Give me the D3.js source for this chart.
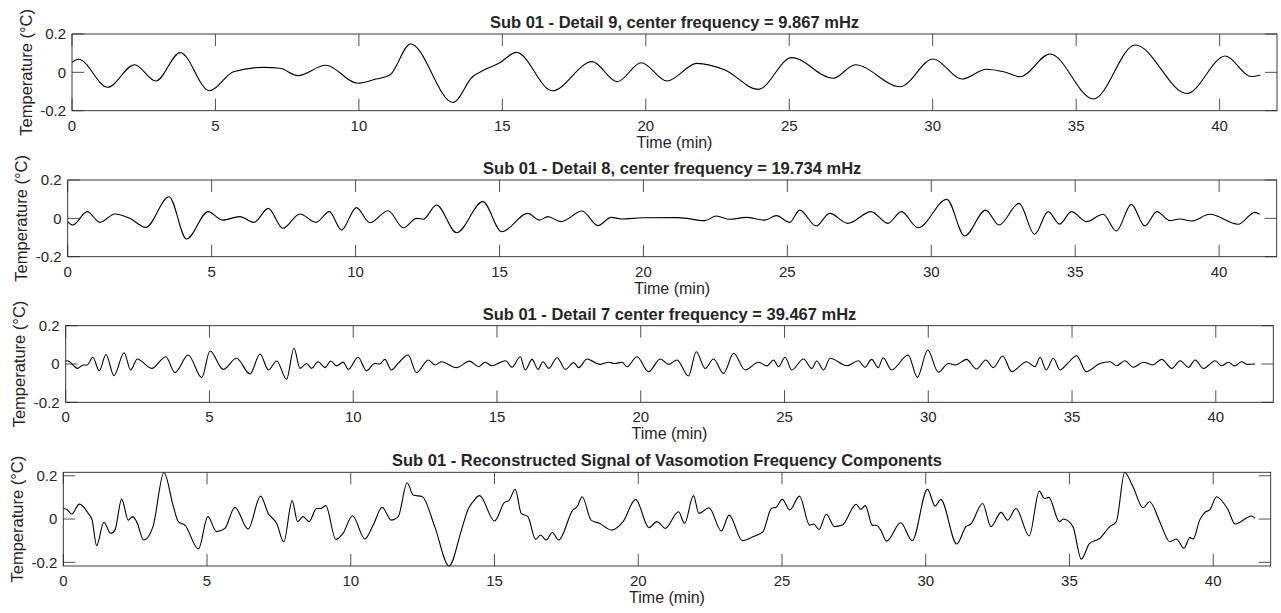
<!DOCTYPE html>
<html>
<head>
<meta charset="utf-8">
<script src="https://cdn.jsdelivr.net/npm/d3@7"></script>
<style>
  body { margin: 0; background: #fff; }
  text { font-family: 'Liberation Sans', Arial, Helvetica, sans-serif; fill: #262626; }
</style>
</head>
<body>
<div id="chart"></div>
<script>
// values, [time (min), temperature (degC)]
const detail9 = [
  [0, 0.052], [0.23, 0.068], [1.24, -0.078], [2.18, 0.04], [2.92, -0.045], [3.77, 0.103],
  [4.79, -0.096], [5.63, 0.003], [6.67, 0.026], [7.25, 0.021], [7.87, -0.017], [8.85, 0.037],
  [9.95, -0.057], [10.6, -0.035], [11.08, -0.014], [11.8, 0.148], [13.28, -0.157], [13.96, -0.023],
  [14.36, 0.012], [14.88, 0.047], [15.49, 0.104], [16.74, -0.096], [18.13, 0.056], [19.0, -0.049],
  [19.84, 0.05], [20.74, -0.045], [21.78, 0.047], [22.76, 0.012], [23.92, -0.089], [25.08, 0.077],
  [26.53, -0.031], [27.3, 0.04], [28.86, -0.075], [30.02, 0.07], [31.01, -0.035], [31.88, 0.016],
  [32.47, 0.003], [33.05, -0.023], [34.09, 0.096], [35.6, -0.139], [37.06, 0.143], [38.86, -0.11],
  [40.2, 0.085], [41.1, -0.022], [41.42, -0.014]
]

const detail8 = [
  [0, -0.017], [0.17, -0.035], [0.68, 0.035], [1.12, -0.021], [1.64, 0.023], [2.16, 0.0],
  [2.71, -0.047], [3.52, 0.113], [4.13, -0.108], [4.88, 0.035], [5.38, -0.009], [5.98, 0.009],
  [6.47, -0.021], [6.97, 0.052], [7.47, -0.052], [8.07, 0.023], [8.62, -0.021], [9.09, 0.035],
  [9.51, -0.061], [10.03, 0.056], [10.5, -0.023], [11.13, 0.04], [11.66, -0.049], [12.12, 0.0],
  [12.35, -0.005], [12.81, 0.07], [13.51, -0.075], [14.42, 0.087], [15.08, -0.07], [15.98, 0.026],
  [16.39, -0.009], [16.68, 0.009], [17.14, -0.017], [17.87, 0.038], [18.42, -0.038], [18.88, 0.005],
  [19.23, -0.003], [20.0, 0.003], [21.2, 0.004], [22.13, -0.012], [22.53, 0.012], [23.0, -0.005],
  [23.57, 0.005], [24.21, -0.009], [24.62, 0.014], [25.08, -0.021], [25.43, 0.043], [26.0, -0.04],
  [26.47, 0.026], [27.1, -0.026], [27.91, 0.035], [28.49, -0.026], [28.96, 0.035], [29.54, -0.049],
  [30.54, 0.099], [31.16, -0.092], [31.89, 0.043], [32.35, -0.035], [33.05, 0.078], [33.59, -0.083],
  [34.06, 0.035], [34.46, -0.03], [34.87, 0.035], [35.39, -0.017], [35.97, 0.021], [36.43, -0.066],
  [36.95, 0.073], [37.42, -0.04], [37.84, 0.035], [38.29, -0.012], [38.63, -0.003], [39.04, -0.014],
  [39.68, 0.021], [40.66, -0.031], [41.24, 0.031], [41.41, 0.021]
]

const detail7 = [
  [0, 0.017], [0.1, 0.015], [0.41, -0.023], [0.61, -0.005], [0.75, -0.005], [0.94, 0.035],
  [1.17, -0.035], [1.4, 0.05], [1.68, -0.061], [2.03, 0.059], [2.26, -0.031], [2.49, 0.026],
  [2.99, -0.023], [3.48, 0.038], [3.8, -0.045], [4.26, 0.047], [4.73, -0.071], [5.02, 0.068],
  [5.48, -0.028], [5.94, 0.03], [6.41, -0.052], [6.76, 0.052], [7.05, -0.031], [7.34, 0.016],
  [7.68, -0.08], [7.94, 0.082], [8.15, -0.023], [8.38, 0.003], [8.55, -0.023], [8.78, 0.012],
  [9.02, -0.019], [9.22, 0.016], [9.42, -0.01], [9.65, 0.01], [9.83, -0.028], [10.17, 0.035],
  [10.46, -0.035], [10.75, 0.003], [10.92, 0.0], [11.1, 0.024], [11.33, -0.031], [11.56, 0.003],
  [11.91, 0.047], [12.2, -0.045], [12.61, 0.021], [12.84, -0.005], [13.07, 0.012], [13.59, -0.019],
  [14.05, 0.015], [14.36, -0.014], [14.59, 0.009], [14.82, -0.009], [15.0, 0.0], [15.3, 0.017],
  [15.52, -0.017], [15.81, 0.038], [15.98, -0.031], [16.22, 0.024], [16.43, -0.028], [16.6, 0.012],
  [16.8, -0.023], [17.09, 0.033], [17.38, -0.028], [17.67, 0.007], [17.84, -0.019], [18.13, 0.026],
  [18.59, -0.002], [18.88, 0.009], [19.1, 0.003], [19.35, 0.009], [19.52, -0.014], [19.87, 0.038],
  [20.27, -0.04], [20.68, 0.026], [20.97, -0.002], [21.26, 0.021], [21.66, -0.063], [21.93, 0.064],
  [22.24, -0.023], [22.53, 0.026], [22.88, -0.049], [23.23, 0.056], [23.63, -0.031], [24.1, 0.009],
  [24.39, -0.01], [24.62, 0.021], [24.79, -0.014], [25.02, 0.035], [25.25, -0.031], [25.66, 0.026],
  [25.95, -0.023], [26.12, 0.016], [26.36, -0.031], [26.59, 0.03], [27.17, -0.009], [27.57, 0.017],
  [27.8, -0.017], [28.03, 0.024], [28.26, -0.019], [28.43, 0.033], [28.72, -0.031], [29.3, 0.047],
  [29.62, -0.07], [29.98, 0.073], [30.35, -0.043], [30.7, 0.003], [30.95, -0.005], [31.33, 0.024],
  [31.68, -0.026], [32.0, 0.021], [32.26, -0.019], [32.59, 0.042], [32.9, -0.04], [33.42, 0.012],
  [33.71, -0.014], [33.89, 0.035], [34.1, -0.031], [34.35, 0.03], [34.58, -0.031], [34.87, 0.007],
  [35.16, 0.043], [35.49, -0.04], [35.97, 0.003], [36.32, 0.012], [36.55, -0.009], [36.84, 0.017],
  [37.13, -0.017], [37.48, 0.009], [37.8, -0.005], [38.12, 0.024], [38.47, -0.023], [38.76, 0.017],
  [39.05, -0.017], [39.28, 0.021], [39.57, -0.023], [39.98, 0.017], [40.2, -0.009], [40.44, 0.009],
  [40.65, -0.01], [40.9, 0.012], [41.08, -0.002], [41.37, 0.0]
]

const recon = [
  [0, 0.049], [0.12, 0.045], [0.29, 0.023], [0.56, 0.069], [0.87, 0.026], [1.0, -0.003],
  [1.16, -0.123], [1.41, -0.015], [1.65, -0.066], [1.8, -0.05], [2.03, 0.092], [2.26, -0.005],
  [2.41, 0.011], [2.55, -0.012], [2.8, -0.097], [3.12, -0.035], [3.5, 0.215], [3.83, 0.057],
  [4.0, -0.012], [4.23, -0.028], [4.7, -0.138], [5.03, 0.011], [5.33, -0.058], [5.62, -0.043],
  [5.97, 0.054], [6.43, -0.046], [6.86, 0.106], [7.13, 0.026], [7.42, -0.02], [7.67, -0.105],
  [7.96, 0.085], [8.15, -0.012], [8.34, 0.011], [8.55, -0.012], [8.81, 0.049], [8.95, 0.049],
  [9.13, 0.062], [9.48, -0.094], [9.73, -0.066], [10.06, 0.015], [10.49, -0.092], [10.78, -0.028],
  [11.09, 0.054], [11.41, -0.005], [11.65, 0.011], [11.96, 0.168], [12.17, 0.111], [12.49, 0.103],
  [12.92, -0.035], [13.42, -0.217], [13.85, -0.051], [14.07, 0.042], [14.25, 0.08], [14.48, 0.108],
  [15.0, -0.009], [15.35, 0.077], [15.5, 0.085], [15.72, 0.137], [15.93, 0.026], [16.16, 0.011],
  [16.43, -0.094], [16.6, -0.074], [16.8, -0.097], [17.01, -0.062], [17.23, -0.097], [17.73, 0.042],
  [17.88, 0.058], [18.05, 0.103], [18.36, -0.005], [18.65, -0.02], [19.08, -0.051], [19.47, -0.012],
  [19.91, 0.091], [20.37, -0.04], [20.65, -0.012], [20.94, -0.043], [21.4, 0.034], [21.61, -0.02],
  [21.92, 0.108], [22.11, 0.026], [22.46, 0.052], [22.89, -0.055], [23.16, 0.018], [23.62, -0.1],
  [23.99, -0.082], [24.34, -0.058], [24.63, 0.049], [24.8, 0.055], [25.01, 0.091], [25.27, 0.042],
  [25.61, 0.106], [25.96, -0.028], [26.1, -0.023], [26.29, -0.048], [26.54, 0.022], [26.83, -0.035],
  [27.1, -0.028], [27.58, 0.068], [27.74, 0.045], [27.9, 0.062], [28.14, -0.028], [28.3, -0.03],
  [28.43, -0.05], [28.64, -0.102], [29.13, -0.017], [29.53, -0.1], [30.06, 0.137], [30.33, 0.06],
  [30.52, 0.091], [31.08, -0.115], [31.4, -0.035], [31.57, -0.023], [31.98, 0.072], [32.27, -0.035],
  [32.62, 0.031], [32.85, -0.005], [33.14, 0.049], [33.6, -0.078], [33.95, 0.129], [34.13, 0.095],
  [34.28, 0.1], [34.65, -0.012], [34.79, 0.0], [35.12, -0.035], [35.41, -0.185], [35.7, -0.112],
  [36.05, -0.09], [36.4, -0.035], [36.63, -0.012], [36.92, 0.215], [37.21, 0.149], [37.56, 0.052],
  [37.79, 0.08], [38.14, -0.012], [38.49, -0.105], [38.72, -0.092], [38.98, -0.135], [39.19, -0.086],
  [39.3, -0.092], [39.53, -0.005], [39.71, 0.031], [39.88, 0.042], [40.12, 0.103], [40.41, 0.065],
  [40.52, 0.042], [40.76, -0.023], [41.34, 0.014], [41.45, 0.003]
]

const titles = [
  'Sub 01 - Detail 9, center frequency = 9.867 mHz',
  'Sub 01 - Detail 8, center frequency = 19.734 mHz',
  'Sub 01 - Detail 7 center frequency = 39.467 mHz',
  'Sub 01 - Reconstructed Signal of Vasomotion Frequency Components'
]
const series = [detail9, detail8, detail7, recon]
const xTicks = [0, 5, 10, 15, 20, 25, 30, 35, 40]
const yTicks = [-0.2, 0, 0.2]
const yDomains = [[-0.2, 0.2], [-0.2, 0.2], [-0.2, 0.2], [-0.217, 0.216]]

// axes boxes in page pixels (they are not quite aligned in the original)
const boxes = [
  { left: 72, right: 1277, top: 34, bottom: 110.7 },
  { left: 67.7, right: 1276.7, top: 180, bottom: 256.7 },
  { left: 65.7, right: 1273.3, top: 325.7, bottom: 402.3 },
  { left: 63.3, right: 1270.7, top: 472.3, bottom: 566 }
]

const width = 1281
const height = 613
const tickLen = 12
const axisColor = '#262626'

const svg = d3.select('#chart')
  .append('svg')
  .attr('width', width)
  .attr('height', height)

boxes.forEach((b, i) => {
  const x = d3.scaleLinear().domain([0, 42]).range([b.left, b.right])
  const y = d3.scaleLinear().domain(yDomains[i]).range([b.bottom, b.top])
  const g = svg.append('g')

  // ticks drawn inward on all four sides, like matlab's box on
  g.selectAll('.xt-bottom')
    .data(xTicks)
    .enter()
    .append('line')
    .attr('x1', d => x(d)).attr('x2', d => x(d))
    .attr('y1', b.bottom).attr('y2', b.bottom - tickLen)
    .attr('stroke', axisColor).attr('stroke-width', 0.8)
  g.selectAll('.xt-top')
    .data(xTicks)
    .enter()
    .append('line')
    .attr('x1', d => x(d)).attr('x2', d => x(d))
    .attr('y1', b.top).attr('y2', b.top + tickLen)
    .attr('stroke', axisColor).attr('stroke-width', 0.8)
  g.selectAll('.yt-left')
    .data(yTicks)
    .enter()
    .append('line')
    .attr('x1', b.left).attr('x2', b.left + tickLen)
    .attr('y1', d => y(d)).attr('y2', d => y(d))
    .attr('stroke', axisColor).attr('stroke-width', 0.8)
  g.selectAll('.yt-right')
    .data(yTicks)
    .enter()
    .append('line')
    .attr('x1', b.right).attr('x2', b.right - tickLen)
    .attr('y1', d => y(d)).attr('y2', d => y(d))
    .attr('stroke', axisColor).attr('stroke-width', 0.8)

  const line = d3.line()
    .x(d => x(d[0]))
    .y(d => y(d[1]))
    .curve(d3.curveMonotoneX)

  g.append('path')
    .datum(series[i])
    .attr('d', line)
    .attr('fill', 'none')
    .attr('stroke', '#000')
    .attr('stroke-width', 1.1)

  g.append('rect')
    .attr('x', b.left).attr('y', b.top)
    .attr('width', b.right - b.left).attr('height', b.bottom - b.top)
    .attr('fill', 'none')
    .attr('stroke', axisColor)
    .attr('stroke-width', 0.9)

  // tick labels
  g.selectAll('.xl')
    .data(xTicks)
    .enter()
    .append('text')
    .attr('x', d => x(d))
    .attr('y', b.bottom + 20)
    .attr('text-anchor', 'middle')
    .attr('font-size', '15px')
    .text(d => d)
  g.selectAll('.yl')
    .data(yTicks)
    .enter()
    .append('text')
    .attr('x', b.left - 6)
    .attr('y', d => y(d))
    .attr('dy', '0.35em')
    .attr('text-anchor', 'end')
    .attr('font-size', '15px')
    .text(d => d)

  g.append('text')
    .attr('x', (b.left + b.right) / 2)
    .attr('y', b.bottom + 37)
    .attr('text-anchor', 'middle')
    .attr('font-size', '16px')
    .text('Time (min)')

  g.append('text')
    .attr('transform', 'translate(' + (b.left - 46) + ',' + ((b.top + b.bottom) / 2) + ') rotate(-90)')
    .attr('dy', '0.35em')
    .attr('text-anchor', 'middle')
    .attr('font-size', '16.5px')
    .text('Temperature (°C)')

  g.append('text')
    .attr('x', (b.left + b.right) / 2)
    .attr('y', b.top - 6)
    .attr('text-anchor', 'middle')
    .attr('font-size', '16.5px')
    .attr('font-weight', 'bold')
    .attr('fill', '#000')
    .text(titles[i])
})
</script>
</body>
</html>
